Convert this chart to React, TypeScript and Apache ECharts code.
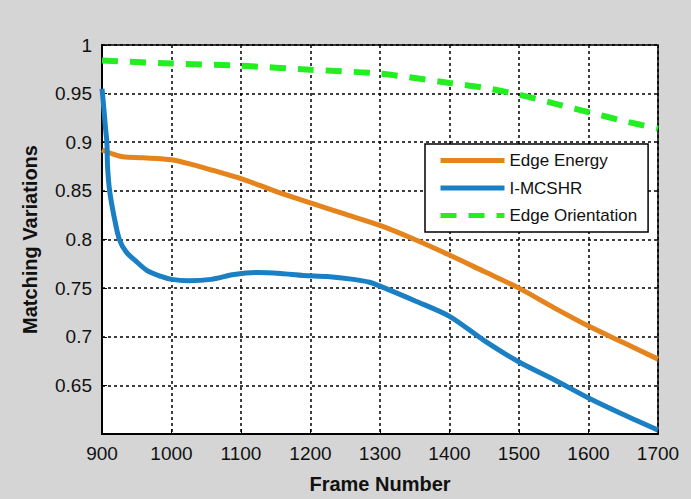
import React, { useEffect, useRef } from "react";
import * as echarts from "echarts";

const xTicks = [900, 1000, 1100, 1200, 1300, 1400, 1500, 1600, 1700];
const yTicks = [0.65, 0.7, 0.75, 0.8, 0.85, 0.9, 0.95, 1];

const energyFrames = [900, 915, 930, 960, 1000, 1030, 1060, 1100, 1150, 1200, 1250, 1300, 1350, 1400, 1450, 1500, 1550, 1600, 1650, 1700];
const energyValues = [0.892, 0.888, 0.885, 0.884, 0.882, 0.877, 0.871, 0.8626, 0.8495, 0.8376, 0.826, 0.8145, 0.8, 0.784, 0.767, 0.75, 0.73, 0.711, 0.694, 0.677];

const mcshrFrames = [900, 902, 905, 907, 908, 911, 917, 925, 935, 950, 965, 985, 1000, 1024, 1057, 1090, 1124, 1157, 1190, 1224, 1262, 1285, 1300, 1350, 1400, 1450, 1500, 1550, 1600, 1650, 1700];
const mcshrValues = [0.955, 0.94, 0.915, 0.9, 0.875, 0.85, 0.825, 0.8, 0.787, 0.777, 0.768, 0.762, 0.759, 0.7576, 0.759, 0.764, 0.766, 0.765, 0.763, 0.762, 0.759, 0.756, 0.752, 0.737, 0.721, 0.696, 0.674, 0.656, 0.637, 0.62, 0.604];

const orientFrames = [900, 1000, 1100, 1200, 1300, 1400, 1450, 1500, 1550, 1600, 1650, 1700];
const orientValues = [0.984, 0.981, 0.9786, 0.9745, 0.9705, 0.961, 0.956, 0.949, 0.94, 0.931, 0.922, 0.914];

const seriesNames = ["Edge Energy", "I-MCSHR", "Edge Orientation"];

const zip = (xs: number[], ys: number[]) => xs.map((x, i) => [x, ys[i]]);

export default function App() {
  const ref = useRef<HTMLDivElement>(null);
  useEffect(() => {
    document.body.style.margin = "0";
    if (!ref.current) return;
    const chart = echarts.init(ref.current, undefined, { renderer: "svg" });
    const font = "Liberation Sans, Arial, sans-serif";
    chart.setOption({
      animation: false,
      backgroundColor: "#d5d5d5",
      grid: {
        left: 102,
        right: 33,
        top: 45,
        bottom: 63,
        show: true,
        backgroundColor: "#ffffff",
        borderColor: "#000000",
        borderWidth: 1.5,
      },
      xAxis: {
        type: "value",
        min: xTicks[0],
        max: xTicks[xTicks.length - 1],
        interval: 100,
        name: "Frame Number",
        nameLocation: "middle",
        nameGap: 40,
        nameTextStyle: { fontFamily: font, fontSize: 20, fontWeight: "bold", color: "#111" },
        axisLine: { show: true, lineStyle: { color: "#000", width: 2 } },
        axisTick: { show: true, inside: true, length: 5, lineStyle: { color: "#000" } },
        axisLabel: { fontFamily: font, fontSize: 19, color: "#111", margin: 10, formatter: (v: number) => String(v) },
        splitLine: { show: true, lineStyle: { color: "#000", type: [3, 3], width: 1.5 } },
      },
      yAxis: {
        type: "value",
        min: 0.6,
        max: 1,
        interval: 0.05,
        name: "Matching Variations",
        nameLocation: "middle",
        nameGap: 62,
        nameTextStyle: { fontFamily: font, fontSize: 20, fontWeight: "bold", color: "#111" },
        axisLine: { show: true, lineStyle: { color: "#000", width: 2 } },
        axisTick: { show: true, inside: true, length: 5, lineStyle: { color: "#000" } },
        axisLabel: {
          fontFamily: font,
          fontSize: 19,
          color: "#111",
          margin: 10,
          showMinLabel: false,
          formatter: (v: number) => {
            const r = Math.round(v * 100) / 100;
            return yTicks.some((t) => Math.abs(t - r) < 1e-6) ? String(r) : "";
          },
        },
        splitLine: { show: true, lineStyle: { color: "#000", type: [3, 3], width: 1.5 } },
      },
      legend: {
        orient: "vertical",
        left: 425,
        top: 144,
        padding: [8, 11, 8, 13],
        itemGap: 10.5,
        itemWidth: 64,
        itemHeight: 14,
        backgroundColor: "#ffffff",
        borderColor: "#000000",
        borderWidth: 1.5,
        borderRadius: 0,
        itemStyle: { opacity: 0 },
        lineStyle: { width: 5 },
        data: seriesNames,
        textStyle: { fontFamily: font, fontSize: 17, color: "#111", lineHeight: 17 },
      },
      series: [
        {
          name: seriesNames[0],
          type: "line",
          data: zip(energyFrames, energyValues),
          symbol: "none",
          smooth: 0.3,
          lineStyle: { color: "#e5841c", width: 5 },
          itemStyle: { color: "#e5841c" },
        },
        {
          name: seriesNames[1],
          type: "line",
          data: zip(mcshrFrames, mcshrValues),
          symbol: "none",
          smooth: 0.3,
          lineStyle: { color: "#1b7fc3", width: 5 },
          itemStyle: { color: "#1b7fc3" },
        },
        {
          name: seriesNames[2],
          type: "line",
          data: zip(orientFrames, orientValues),
          symbol: "none",
          smooth: 0.3,
          lineStyle: { color: "#22ee22", width: 6, type: [16, 12] },
          itemStyle: { color: "#22ee22" },
        },
      ],
    });
    return () => chart.dispose();
  }, []);
  return <div ref={ref} style={{ width: 691, height: 499 }} />;
}
